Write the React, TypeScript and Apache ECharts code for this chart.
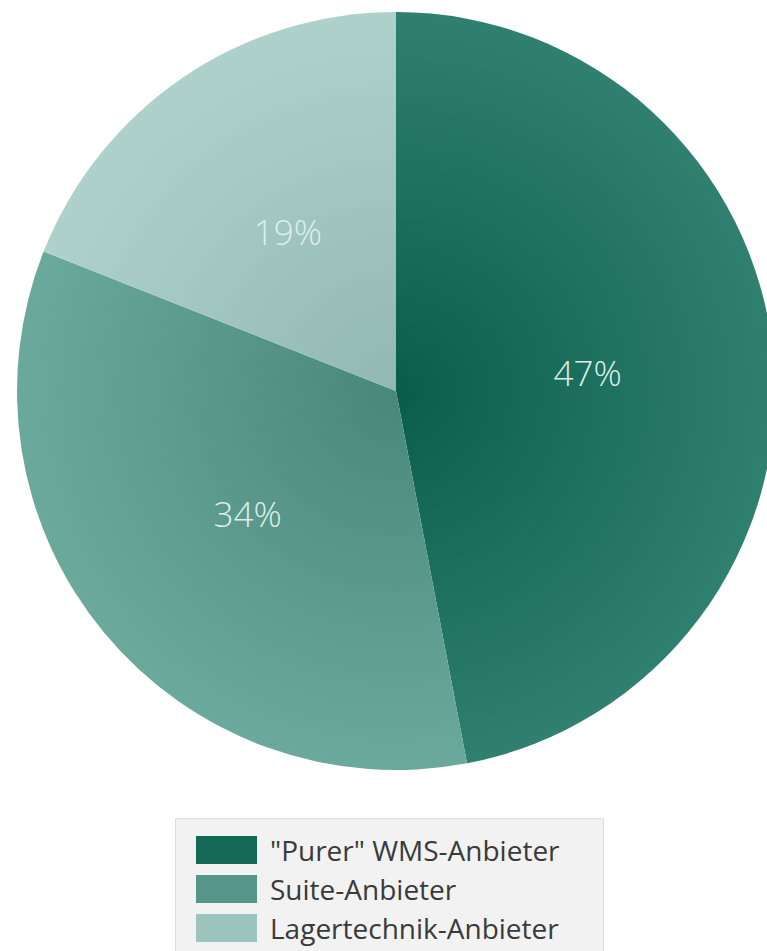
import React, { useEffect, useRef } from "react";
import * as echarts from "echarts";

const categories = ['"Purer" WMS-Anbieter', "Suite-Anbieter", "Lagertechnik-Anbieter"];
const shares = [47, 34, 19];
const innerColors = ["#0a5d4b", "#4a877b", "#92b8b2"];
const outerColors = ["#2f8070", "#6aa99b", "#aed1cb"];
const legendColors = ["#136955", "#55958a", "#9cc5be"];

const CX = 396;
const CY = 391;
const R = 379;

export default function App() {
  const ref = useRef<HTMLDivElement>(null);
  useEffect(() => {
    if (!ref.current) return;
    const chart = echarts.init(ref.current, null, { renderer: "svg" });
    const data = categories.map((name, i) => ({
      name,
      value: shares[i],
      itemStyle: {
        color: {
          type: "radial",
          x: CX,
          y: CY,
          r: R,
          global: true,
          colorStops: [
            { offset: 0, color: innerColors[i] },
            { offset: 1, color: outerColors[i] },
          ],
        },
      },
    }));
    chart.setOption({
      animation: false,
      backgroundColor: "#ffffff",
      graphic: [
        {
          type: "rect",
          z: 0,
          shape: { x: 175.5, y: 818.5, width: 428, height: 150 },
          style: { fill: "#f2f2f2", stroke: "#dddddd", lineWidth: 1 },
        },
      ],
      legend: {
        z: 5,
        orient: "vertical",
        left: 196,
        top: 836,
        padding: 0,
        itemWidth: 61,
        itemHeight: 28,
        itemGap: 11,
        icon: "rect",
        selectedMode: false,
        textStyle: {
          fontFamily: "Open Sans",
          fontSize: 28,
          color: "#3a3a3a",
          padding: [0, 0, 0, 8],
        },
        data: categories.map((name, i) => ({
          name,
          itemStyle: { color: legendColors[i] },
        })),
      },
      series: [
        {
          type: "pie",
          silent: true,
          center: [CX, CY],
          radius: R,
          startAngle: 90,
          clockwise: true,
          label: {
            show: true,
            position: "inside",
            formatter: "{c}%",
            color: "#dcefea",
            fontFamily: "Open Sans",
            fontSize: 35,
            fontWeight: 300,
          },
          labelLine: { show: false },
          itemStyle: { borderWidth: 0 },
          data,
        },
      ],
    });
    return () => chart.dispose();
  }, []);
  return (
    <div
      ref={ref}
      style={{ position: "fixed", left: 0, top: 0, width: 767, height: 951 }}
    />
  );
}
